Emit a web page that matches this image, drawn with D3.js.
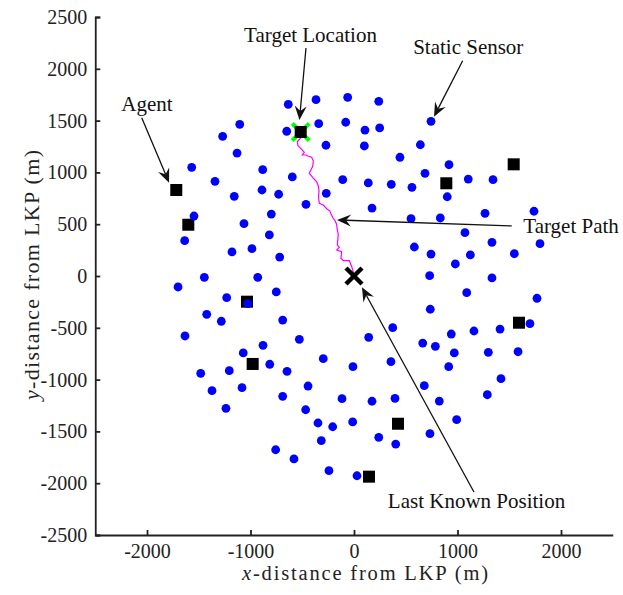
<!DOCTYPE html>
<html>
<head>
<meta charset="utf-8">
<script src="https://cdn.jsdelivr.net/npm/d3@7"></script>
<style>
  html, body { margin: 0; padding: 0; background: #fff; }
  svg { display: block; }
</style>
</head>
<body>
<svg id="chart" width="623" height="595"></svg>
<script>
// Static sensor positions (m from LKP)
const sensorX = [-635,-367,-61,-1104,-650,-341,-80,-1269,-1130,-271,-1568,-882,-596,-109,-1343,-889,-1157,-728,-268,-464,
  -1546,-799,-1063,-818,-1636,-1179,-986,-718,-1446,-930,-1700,239,106,248,744,100,641,444,918,686,
  138,360,560,1104,1343,901,174,1266,1739,551,834,1072,1333,1797,583,744,1124,1549,979,731,
  1333,-751,-1230,-1027,-1423,-1282,-689,-1633,-528,-879,-1070,-297,-814,-647,-10,-1481,-1205,-1372,-1082,-444,
  -689,-116,-1237,-467,-348,-206,-13,-316,-757,-580,-242,29,1089,1768,737,374,142,940,1159,1411,
  1700,664,786,969,1298,1585,357,915,1420,679,1288,174,396,824,992,239,403,734];
const sensorY = [1657,1702,1725,1464,1397,1470,1484,1348,1187,1262,1049,1026,956,930,914,830,769,789,798,692,
  579,598,505,396,341,232,264,183,-13,-13,-106,1686,1409,1429,1493,1255,1267,1146,1074,991,
  898,885,856,936,930,765,656,605,625,553,560,418,325,312,280,212,203,215,116,3,
  -19,-154,-209,-267,-370,-437,-425,-579,-611,-669,-743,-798,-852,-920,-875,-939,-914,-1107,-1078,-1062,
  -1161,-1184,-1277,-1291,-1419,-1455,-1409,-1590,-1677,-1766,-1879,-1928,-161,-215,-321,-499,-592,-560,-531,-512,
  -460,-647,-679,-743,-737,-731,-827,-875,-991,-1059,-1146,-1209,-1181,-1207,-1387,-1557,-1622,-1522];

// Search agents
const agentX = [-1717,-1601,-515,892,1543,-1034,-979,1594,425,145];
const agentY = [830,495,1390,895,1078,-248,-849,-451,-1426,-1937];

// Target path from the last known position to the target
const pathX = [0,-7,-22,-45,-103,-126,-119,-167,-142,-161,-157,-152,-161,-169,-184,-203,-222,-232,-261,-297,
  -335,-343,-338,-345,-360,-386,-409,-432,-425,-399,-393,-409,-447,-464,-500,-480,-505,-541,-548,-515,-515];
const pathY = [0,39,90,148,148,171,235,251,277,299,347,405,444,502,534,560,598,627,647,685,
  702,763,820,869,910,936,965,991,1007,1059,1110,1146,1158,1168,1168,1194,1223,1258,1296,1332,1390];

const targetLoc = [-515, 1390];
const lastKnown = [0, 0];

const axisTicksX = [-2000, -1000, 0, 1000, 2000];
const axisTicksY = [-2500, -2000, -1500, -1000, -500, 0, 500, 1000, 1500, 2000, 2500];

// Callouts: label, label anchor point, arrow start, arrow tip (all in metres)
const noteLabels = ["Agent", "Target Location", "Static Sensor", "Target Path", "Last Known Position"];
const noteAnchor = ["middle", "middle", "middle", "start", "middle"];
const noteTextPos = [[-2000, 1593], [-420, 2262], [1104, 2143], [1636, 412], [1184, -2239]];
const noteFrom = [[-2051, 1528], [-464, 2201], [1050, 2078], [1524, 483], [1159, -2085]];
const noteTo = [[-1787, 901], [-527, 1506], [773, 1538], [-164, 541], [77, -109]];

const svg = d3.select("#chart");
const serif = "'Liberation Serif', 'Times New Roman', serif";

const x = d3.scaleLinear().domain([-2500, 2500]).range([95.25, 612.75]);
const y = d3.scaleLinear().domain([-2500, 2500]).range([535, 17]);

// Axes (ticks point inward)
const axisColor = "#222";
const fmt = d => d3.format("d")(d).replace("\u2212", "-");
const gx = svg.append("g").attr("transform", `translate(0,${y(-2500)})`)
  .call(d3.axisBottom(x).tickValues(axisTicksX).tickFormat(fmt)
    .tickSize(-5).tickSizeOuter(0).tickPadding(8.5));
const gy = svg.append("g").attr("transform", `translate(${x(-2500)},0)`)
  .call(d3.axisLeft(y).tickValues(axisTicksY).tickFormat(fmt)
    .tickSize(-5).tickSizeOuter(-5).tickPadding(8));
[gx, gy].forEach(g => {
  g.attr("font-family", serif).attr("font-size", 20);
  g.select(".domain").attr("stroke", axisColor).attr("stroke-width", 1.8);
  g.selectAll(".tick line").attr("stroke", axisColor).attr("stroke-width", 1.8);
  g.selectAll(".tick text").attr("fill", "#222");
});

// Axis titles
const xt = svg.append("text").attr("x", 365).attr("y", 580).attr("text-anchor", "middle")
  .attr("font-family", serif).attr("font-size", 20.5).attr("fill", "#222")
  .attr("textLength", 246).attr("lengthAdjust", "spacing");
xt.append("tspan").attr("font-style", "italic").text("x");
xt.append("tspan").text("-distance from LKP (m)");

const yt = svg.append("text").attr("transform", "translate(39,275) rotate(-90)").attr("text-anchor", "middle")
  .attr("font-family", serif).attr("font-size", 22).attr("fill", "#222")
  .attr("textLength", 250).attr("lengthAdjust", "spacing");
yt.append("tspan").attr("font-style", "italic").text("y");
yt.append("tspan").text("-distance from LKP (m)");

// Target path
svg.append("path")
  .datum(d3.range(pathX.length))
  .attr("d", d3.line().x(i => x(pathX[i])).y(i => y(pathY[i])))
  .attr("fill", "none").attr("stroke", "#ff00ff").attr("stroke-width", 1.2);

// Target location cross
const xs = 8.5;
const tx = x(targetLoc[0]), ty = y(targetLoc[1]);
svg.append("path")
  .attr("d", `M${tx - xs},${ty - xs}L${tx + xs},${ty + xs}M${tx - xs},${ty + xs}L${tx + xs},${ty - xs}`)
  .attr("stroke", "#00ff00").attr("stroke-width", 4);

// Agents
const sq = 12;
svg.append("g").selectAll("rect").data(d3.range(agentX.length)).join("rect")
  .attr("x", i => x(agentX[i]) - sq / 2).attr("y", i => y(agentY[i]) - sq / 2)
  .attr("width", sq).attr("height", sq).attr("fill", "#000");

// Static sensors
svg.append("g").selectAll("circle").data(d3.range(sensorX.length)).join("circle")
  .attr("cx", i => x(sensorX[i])).attr("cy", i => y(sensorY[i])).attr("r", 4.4)
  .attr("fill", "#0000ff");

// Last known position marker
const ls = 8;
const lx = x(lastKnown[0]), ly = y(lastKnown[1]);
svg.append("path")
  .attr("d", `M${lx - ls},${ly - ls}L${lx + ls},${ly + ls}M${lx - ls},${ly + ls}L${lx + ls},${ly - ls}`)
  .attr("stroke", "#000").attr("stroke-width", 4.5);

// Callouts
const notes = svg.append("g");
noteLabels.forEach((label, i) => {
  const x0 = x(noteFrom[i][0]), y0 = y(noteFrom[i][1]);
  const x1 = x(noteTo[i][0]), y1 = y(noteTo[i][1]);
  const ang = Math.atan2(y1 - y0, x1 - x0);
  const L = 14, W = 6, N = 9;
  const ux = Math.cos(ang), uy = Math.sin(ang), px = -uy, py = ux;
  const bx = x1 - ux * L, by = y1 - uy * L;
  const nx = x1 - ux * N, ny = y1 - uy * N;
  notes.append("line").attr("x1", x0).attr("y1", y0).attr("x2", nx).attr("y2", ny)
    .attr("stroke", "#111").attr("stroke-width", 1.3);
  notes.append("path")
    .attr("d", `M${x1},${y1}L${bx + px * W},${by + py * W}L${nx},${ny}L${bx - px * W},${by - py * W}Z`)
    .attr("fill", "#111");
  notes.append("text").attr("x", x(noteTextPos[i][0])).attr("y", y(noteTextPos[i][1]))
    .attr("text-anchor", noteAnchor[i])
    .attr("font-family", serif).attr("font-size", 21).attr("fill", "#111")
    .text(label);
});
</script>
</body>
</html>
